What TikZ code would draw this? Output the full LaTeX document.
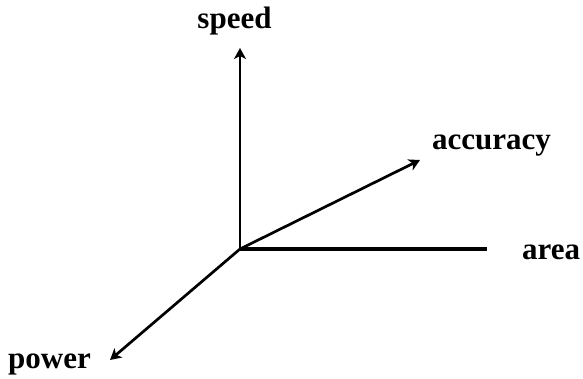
\documentclass[tikz,border=0pt]{standalone}
\usepackage{fontspec}
\setmainfont{Liberation Serif}
\usetikzlibrary{arrows.meta}
\tikzset{
  axis/.style={line width=2.7pt, -{Stealth[length=11pt, width=12pt, inset=3pt]}},
  plainaxis/.style={line width=3.2pt},
  lbl/.style={inner sep=0pt, font=\fontsize{31}{36}\selectfont\bfseries}
}
\begin{document}
\begin{tikzpicture}[x=1pt, y=-1pt]
\useasboundingbox (0,0) rectangle (583,379);
\coordinate (O) at (240,249);
\coordinate (speedtip) at (240,48);
\coordinate (acctip) at (420,160);
\coordinate (areaend) at (487,249);
\coordinate (powertip) at (110,360);
\node[lbl, anchor=base] (speed) at (234.5,29) {speed};
\node[lbl, anchor=base west] (accuracy) at (432,150) {accuracy};
\node[lbl, anchor=base west] (area) at (522,259) {area};
\node[lbl, anchor=base west] (power) at (8,368) {power};
\draw[axis] (O) -- (speedtip);
\draw[axis] (O) -- (acctip);
\draw[axis] (O) -- (powertip);
\draw[plainaxis] (O) -- (areaend);
\end{tikzpicture}
\end{document}
